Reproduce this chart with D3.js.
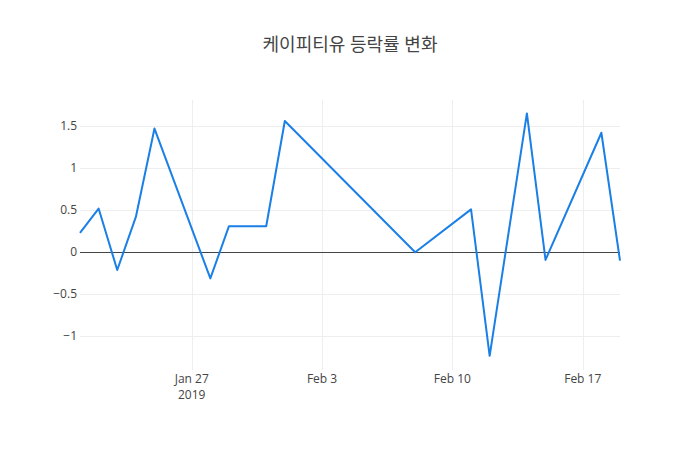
<!DOCTYPE html>
<html>
<head>
<meta charset="utf-8">
<script src="https://cdn.jsdelivr.net/npm/d3@7"></script>
<style>
  body { margin: 0; background: #fff; }
  text { font-family: "Open Sans", "Noto Sans CJK KR", sans-serif; fill: #444; }
</style>
</head>
<body>
<svg width="700" height="450"></svg>
<script>
// trading days and daily change (%)
const dates = ["2019-01-21", "2019-01-22", "2019-01-23", "2019-01-24", "2019-01-25",
  "2019-01-28", "2019-01-29", "2019-01-30", "2019-01-31", "2019-02-01",
  "2019-02-08", "2019-02-11", "2019-02-12", "2019-02-14", "2019-02-15",
  "2019-02-18", "2019-02-19"]
const changes = [0.23, 0.52, -0.21, 0.42, 1.47,
  -0.31, 0.31, 0.31, 0.31, 1.56,
  0, 0.51, -1.23, 1.65, -0.09,
  1.42, -0.1]
const xTicks = ["2019-01-27", "2019-02-03", "2019-02-10", "2019-02-17"]
const yTicks = [-1, -0.5, 0, 0.5, 1, 1.5]

const parse = d3.timeParse("%Y-%m-%d")
const data = dates.map((d, i) => ({ date: parse(d), value: changes[i] }))

const svg = d3.select("svg")
const plotL = 80, plotR = 620, plotT = 100, plotB = 370

const x = d3.scaleTime()
  .domain(d3.extent(data, d => d.date))
  .range([plotL, plotR])

const y = d3.scaleLinear()
  .domain([-1.398, 1.809])
  .range([plotB, plotT])

// snap hairlines to pixel centres
const px = v => Math.round(v) + 0.5

// title
svg.append("text")
  .attr("x", 350)
  .attr("y", 51)
  .attr("text-anchor", "middle")
  .style("font-size", "18px")
  .text("케이피티유 등락률 변화")

// grid
svg.append("g")
  .selectAll("line")
  .data(xTicks.map(parse))
  .enter()
  .append("line")
  .attr("x1", d => px(x(d))).attr("x2", d => px(x(d)))
  .attr("y1", plotT).attr("y2", plotB)
  .attr("stroke", "#eee")

svg.append("g")
  .selectAll("line")
  .data(yTicks.filter(d => d !== 0))
  .enter()
  .append("line")
  .attr("x1", plotL).attr("x2", plotR)
  .attr("y1", d => px(y(d))).attr("y2", d => px(y(d)))
  .attr("stroke", "#eee")

// zero line
svg.append("line")
  .attr("x1", plotL).attr("x2", plotR)
  .attr("y1", px(y(0))).attr("y2", px(y(0)))
  .attr("stroke", "#444")
  .attr("stroke-width", 1)

// y labels
svg.append("g")
  .selectAll("text")
  .data(yTicks)
  .enter()
  .append("text")
  .attr("x", plotL - 3)
  .attr("y", d => y(d) + 4)
  .attr("text-anchor", "end")
  .style("font-size", "12px")
  .text(d => String(d).replace("-", "\u2212"))

// x labels
const fmt = d3.timeFormat("%b %-d")
svg.append("g")
  .selectAll("text")
  .data(xTicks.map(parse))
  .enter()
  .append("text")
  .attr("x", d => x(d))
  .attr("y", 383)
  .attr("text-anchor", "middle")
  .style("font-size", "12px")
  .text(d => fmt(d))

// year under first tick
svg.append("text")
  .attr("x", x(parse(xTicks[0])))
  .attr("y", 399)
  .attr("text-anchor", "middle")
  .style("font-size", "12px")
  .text(parse(xTicks[0]).getFullYear())

// line
const line = d3.line()
  .x(d => x(d.date))
  .y(d => y(d.value))

svg.append("path")
  .datum(data)
  .attr("d", line)
  .attr("fill", "none")
  .attr("stroke", "#1a7fe6")
  .attr("stroke-width", 2)
  .attr("stroke-linejoin", "round")
</script>
</body>
</html>
